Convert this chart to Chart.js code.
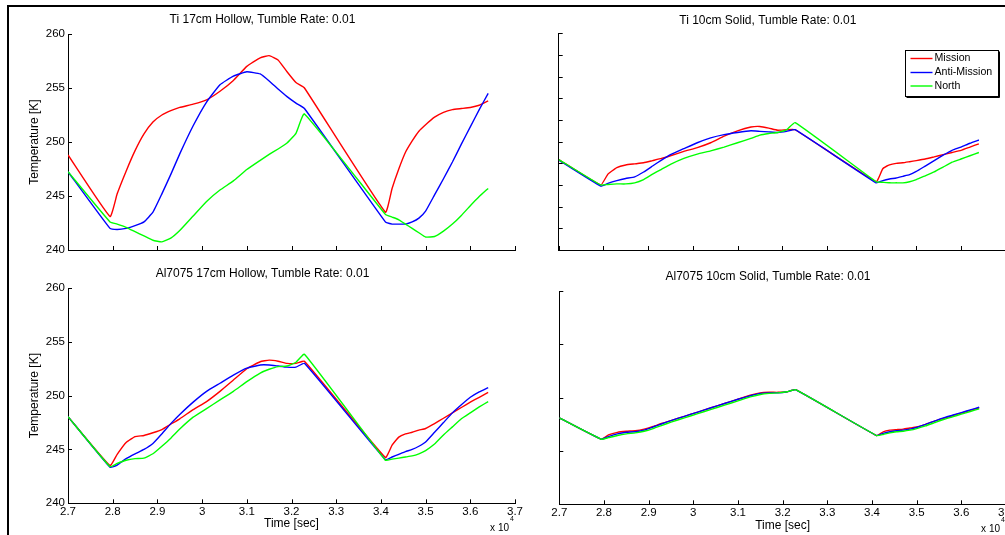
<!DOCTYPE html>
<html>
<head>
<meta charset="utf-8">
<script src="https://cdn.jsdelivr.net/npm/chart.js@4.4.1/dist/chart.umd.min.js"></script>
<style>
  html, body { margin: 0; padding: 0; background: #fff; overflow: hidden; width: 1005px; height: 535px; }
  #frame { position: absolute; left: 7px; top: 5px; width: 1100px; height: 600px; border-top: 2px solid #000; border-left: 2px solid #000; }
  canvas { position: absolute; }
</style>
</head>
<body>
<div id="frame"></div>
<canvas id="tl" width="520" height="262" style="left:10px;top:0px"></canvas>
<canvas id="tr" width="490" height="262" style="left:530px;top:0px"></canvas>
<canvas id="bl" width="520" height="273" style="left:10px;top:262px"></canvas>
<canvas id="br" width="490" height="273" style="left:530px;top:262px"></canvas>
<script>
// time [sec], shared by all four runs
const timeSec = [27000, 27940, 28100, 28300, 28500, 28700, 28900, 29100, 29300, 29500,
  29800, 30100, 30400, 30700, 31000, 31300, 31500, 31700, 31900, 32100,
  32290, 34100, 34250, 34400, 34550, 34700, 34850, 35000, 35200, 35400,
  35600, 35800, 36000, 36200, 36400];

// Ti 17cm Hollow
const tiHollowMission = [248.8, 243.1, 245.2, 247.3, 249.2, 250.75, 251.85, 252.5, 252.9, 253.2,
  253.5, 253.9, 254.7, 255.7, 257.0, 257.8, 258.0, 257.6, 256.5, 255.5,
  255.0, 243.5, 245.7, 247.5, 249.05, 250.1, 251.0, 251.6, 252.3, 252.75,
  253.0, 253.1, 253.2, 253.4, 253.8];
const tiHollowAnti = [247.25, 242.0, 241.9, 242.0, 242.25, 242.6, 243.5, 245.2, 247.0, 248.9,
  251.5, 253.7, 255.3, 256.1, 256.5, 256.3, 255.65, 254.9, 254.2, 253.6,
  253.1, 242.6, 242.4, 242.4, 242.4, 242.6, 242.95, 243.6, 245.1, 246.6,
  248.15, 249.8, 251.4, 253.0, 254.5];
const tiHollowNorth = [247.25, 242.6, 242.4, 242.1, 241.7, 241.3, 240.9, 240.75, 241.1, 241.8,
  243.15, 244.5, 245.55, 246.4, 247.45, 248.3, 248.85, 249.35, 249.9, 250.8,
  252.6, 243.3, 243.05, 242.8, 242.4, 242.0, 241.6, 241.2, 241.25, 241.75,
  242.4, 243.2, 244.1, 244.95, 245.7];

// Ti 10cm Solid
const tiSolidMission = [248.35, 246.0, 247.0, 247.6, 247.85, 247.95, 248.05, 248.25, 248.45, 248.7,
  249.1, 249.45, 249.9, 250.5, 251.0, 251.35, 251.4, 251.25, 251.05, 251.1,
  251.1, 246.3, 247.5, 247.85, 248.0, 248.05, 248.15, 248.25, 248.4, 248.6,
  248.8, 249.0, 249.2, 249.5, 249.8];
const tiSolidAnti = [248.3, 245.9, 246.15, 246.4, 246.6, 246.75, 247.2, 247.75, 248.3, 248.8,
  249.35, 249.9, 250.35, 250.65, 250.85, 251.0, 250.95, 250.9, 250.85, 250.95,
  251.1, 246.2, 246.4, 246.55, 246.65, 246.8, 246.95, 247.25, 247.75, 248.25,
  248.75, 249.2, 249.5, 249.85, 250.15];
const tiSolidNorth = [248.35, 246.0, 246.05, 246.1, 246.1, 246.2, 246.5, 247.0, 247.45, 247.9,
  248.45, 248.85, 249.15, 249.5, 249.9, 250.3, 250.6, 250.75, 250.85, 251.1,
  251.75, 246.3, 246.25, 246.2, 246.2, 246.2, 246.3, 246.5, 246.85, 247.2,
  247.65, 248.1, 248.4, 248.7, 249.0];

// Al7075 17cm Hollow
const alHollowMission = [248.05, 243.5, 244.55, 245.65, 246.2, 246.3, 246.55, 246.85, 247.35, 247.85,
  248.7, 249.45, 250.4, 251.45, 252.5, 253.15, 253.3, 253.2, 253.0, 253.0,
  253.2, 244.25, 245.4, 246.15, 246.45, 246.6, 246.8, 246.95, 247.4, 247.9,
  248.4, 248.9, 249.4, 249.85, 250.3];
const alHollowAnti = [248.05, 243.35, 243.55, 244.15, 244.6, 245.0, 245.55, 246.45, 247.4, 248.25,
  249.4, 250.4, 251.15, 251.9, 252.55, 252.85, 252.85, 252.75, 252.65, 252.65,
  253.0, 244.05, 244.3, 244.55, 244.8, 245.0, 245.3, 245.7, 246.6, 247.5,
  248.4, 249.15, 249.85, 250.35, 250.75];
const alHollowNorth = [248.05, 243.4, 243.7, 244.0, 244.15, 244.2, 244.6, 245.3, 246.05, 246.9,
  248.0, 248.8, 249.6, 250.4, 251.3, 252.1, 252.45, 252.7, 252.75, 253.1,
  253.85, 244.0, 244.1, 244.2, 244.3, 244.4, 244.6, 244.9, 245.5, 246.35,
  247.1, 247.85, 248.4, 248.95, 249.45];

// Al7075 10cm Solid
const alSolidMission = [248.1, 246.1, 246.5, 246.75, 246.85, 246.9, 247.05, 247.3, 247.6, 247.85,
  248.25, 248.65, 249.05, 249.45, 249.85, 250.25, 250.45, 250.5, 250.5, 250.55,
  250.75, 246.45, 246.8, 246.95, 247.0, 247.05, 247.15, 247.25, 247.5, 247.8,
  248.05, 248.3, 248.55, 248.8, 249.05];
const alSolidAnti = [248.1, 246.1, 246.35, 246.6, 246.75, 246.8, 246.95, 247.25, 247.55, 247.85,
  248.25, 248.65, 249.05, 249.45, 249.85, 250.2, 250.4, 250.45, 250.45, 250.55,
  250.75, 246.45, 246.65, 246.8, 246.9, 246.95, 247.05, 247.2, 247.5, 247.8,
  248.1, 248.35, 248.6, 248.85, 249.1];
const alSolidNorth = [248.1, 246.1, 246.25, 246.45, 246.6, 246.7, 246.85, 247.1, 247.4, 247.7,
  248.1, 248.5, 248.9, 249.3, 249.7, 250.1, 250.3, 250.4, 250.45, 250.55,
  250.75, 246.45, 246.55, 246.7, 246.8, 246.85, 246.95, 247.1, 247.35, 247.65,
  247.95, 248.2, 248.45, 248.7, 248.95];

const seriesNames = ['Mission', 'Anti-Mission', 'North'];
const seriesColors = ['#ff0000', '#0000ff', '#00ff00'];

Chart.defaults.font.family = '"Liberation Sans", Arial, Helvetica, sans-serif';
Chart.defaults.color = '#000';

// matlab style: ticks pointing inwards, x10^4 label, boxed legend
const matlabBits = {
  id: 'matlabBits',
  afterDraw(chart, args, opts) {
    const ctx = chart.ctx, a = chart.chartArea;
    const xs = chart.scales.x, ys = chart.scales.y;
    ctx.save();
    ctx.strokeStyle = '#000';
    ctx.lineWidth = 1;
    ctx.beginPath();
    xs.ticks.forEach(t => {
      const px = Math.round(xs.getPixelForValue(t.value)) + 0.5;
      ctx.moveTo(px, a.bottom); ctx.lineTo(px, a.bottom - 4);
    });
    ys.ticks.forEach(t => {
      const py = Math.round(ys.getPixelForValue(t.value)) + 0.5;
      ctx.moveTo(a.left, py); ctx.lineTo(a.left + 4, py);
    });
    ctx.stroke();

    if (opts.exponent) {
      ctx.fillStyle = '#000';
      ctx.textBaseline = 'middle';
      ctx.font = '10px "Liberation Sans", Arial, sans-serif';
      ctx.textAlign = 'right';
      ctx.fillText('x 10', a.right - 6, a.bottom + 24.7);
      ctx.font = '7px "Liberation Sans", Arial, sans-serif';
      ctx.textAlign = 'left';
      ctx.fillText('4', a.right - 5, a.bottom + 16);
    }

    if (opts.legend) {
      const bx = Math.round(a.right - 100.7) + 0.5, by = Math.round(a.top + 16.7) + 0.5;
      const bw = 93, bh = 46;
      ctx.fillStyle = '#fff';
      ctx.fillRect(bx, by, bw, bh);
      ctx.strokeRect(bx, by, bw, bh);
      ctx.beginPath();
      ctx.moveTo(bx + bw + 1, by + 1); ctx.lineTo(bx + bw + 1, by + bh + 1); ctx.lineTo(bx + 1, by + bh + 1);
      ctx.stroke();
      ctx.font = '10.6px "Liberation Sans", Arial, sans-serif';
      ctx.textAlign = 'left';
      ctx.textBaseline = 'middle';
      const rows = [8, 22, 35.5];
      seriesNames.forEach((name, i) => {
        const y = by + rows[i];
        ctx.strokeStyle = seriesColors[i];
        ctx.lineWidth = 1.4;
        ctx.beginPath();
        ctx.moveTo(bx + 5, y); ctx.lineTo(bx + 27, y);
        ctx.stroke();
        ctx.fillStyle = '#000';
        ctx.fillText(name, bx + 29, y);
      });
    }
    ctx.restore();
  }
};
Chart.register(matlabBits);

function line(i, values) {
  return {
    label: seriesNames[i],
    data: timeSec.map((t, k) => ({ x: t, y: values[k] })),
    borderColor: seriesColors[i],
    borderWidth: 1.4,
    pointRadius: 0,
    tension: 0.12,
    fill: false,
    order: 3 - i
  };
}

function panel(id, o) {
  new Chart(document.getElementById(id), {
    type: 'line',
    data: { datasets: [line(0, o.mission), line(1, o.anti), line(2, o.north)] },
    options: {
      responsive: false,
      animation: false,
      events: [],
      layout: { padding: o.pad },
      plugins: {
        legend: { display: false },
        tooltip: { enabled: false },
        title: {
          display: true, text: o.title, color: '#000',
          font: { size: 12, weight: 'normal' },
          padding: { top: 0, bottom: o.titleGap }
        },
        matlabBits: { exponent: o.xLabels, legend: o.legend }
      },
      scales: {
        x: {
          type: 'linear', min: 27000, max: 37000,
          grid: { display: false, drawTicks: false },
          border: { display: true, color: '#000', width: 1 },
          ticks: {
            display: o.xLabels, stepSize: 1000, autoSkip: false, maxRotation: 0,
            padding: 2, font: { size: 11.5 }, color: '#000',
            callback: v => String(+(v / 1e4).toFixed(1))
          },
          title: {
            display: o.xLabels, text: 'Time [sec]', color: '#000',
            font: { size: 12 }, padding: { top: 0, bottom: o.xTitlePad }
          },
          afterFit: s => { s.height = o.xh; }
        },
        y: {
          min: 240, max: 260,
          grid: { display: false, drawTicks: false },
          border: { display: true, color: '#000', width: 1 },
          ticks: { display: o.yLabels, stepSize: o.yStep, padding: 3, font: { size: 11.5 }, color: '#000' },
          title: {
            display: o.yLabels, text: 'Temperature [K]', color: '#000',
            font: { size: 12 }, padding: { top: o.yTitlePad, bottom: 0 }
          },
          afterFit: s => { s.width = o.yw; }
        }
      }
    }
  });
}

panel('tl', {
  title: 'Ti 17cm Hollow, Tumble Rate: 0.01',
  mission: tiHollowMission, anti: tiHollowAnti, north: tiHollowNorth,
  pad: { top: 12.8, left: 0, right: 15, bottom: 0 }, titleGap: 6.8,
  yw: 58, xh: 12, yStep: 5, yLabels: true, xLabels: false, yTitlePad: 17.8, xTitlePad: 0, legend: false
});
panel('tr', {
  title: 'Ti 10cm Solid, Tumble Rate: 0.01',
  mission: tiSolidMission, anti: tiSolidAnti, north: tiSolidNorth,
  pad: { top: 13.3, left: 0, right: 14.3, bottom: 0 }, titleGap: 5.6,
  yw: 28.7, xh: 12, yStep: 2, yLabels: false, xLabels: false, yTitlePad: 0, xTitlePad: 0, legend: true
});
panel('bl', {
  title: 'Al7075 17cm Hollow, Tumble Rate: 0.01',
  mission: alHollowMission, anti: alHollowAnti, north: alHollowNorth,
  pad: { top: 4.3, left: 0, right: 15, bottom: 0 }, titleGap: 7.3,
  yw: 58, xh: 31.7, yStep: 5, yLabels: true, xLabels: true, yTitlePad: 17.3, xTitlePad: 3.8, legend: false
});
panel('br', {
  title: 'Al7075 10cm Solid, Tumble Rate: 0.01',
  mission: alSolidMission, anti: alSolidAnti, north: alSolidNorth,
  pad: { top: 7.5, left: 0, right: 14, bottom: 0 }, titleGap: 7.1,
  yw: 29.3, xh: 30.7, yStep: 5, yLabels: false, xLabels: true, yTitlePad: 0, xTitlePad: 2.3, legend: false
});
</script>
</body>
</html>
